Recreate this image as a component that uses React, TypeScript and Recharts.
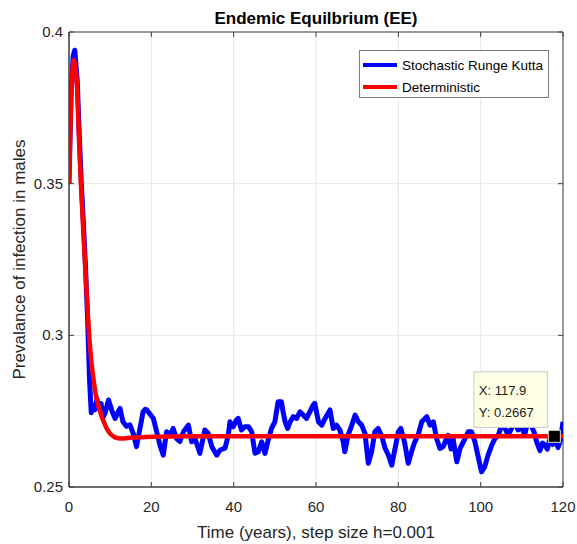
import React from "react"
import {
  LineChart,
  Line,
  XAxis,
  YAxis,
  CartesianGrid,
  Legend,
  ReferenceArea,
  ReferenceDot,
  Label,
} from "recharts"

const FONT = '"Liberation Sans", Arial, Helvetica, sans-serif'
const AXIS = "#404040"
const PLOT_TOP = 32
const PLOT_RIGHT = 563

const seriesNames = ["Stochastic Runge Kutta", "Deterministic"]

// Stochastic Runge Kutta path
const stochTime = [
  0, 0.5, 1.0, 1.4, 2.0, 2.5, 3.0, 3.5, 4.0, 4.5, 5.0, 5.4, 5.8, 6.3, 6.8, 7.3, 7.8, 8.3, 8.8, 9.6,
  10.5, 11.2, 11.8, 12.4, 13.1, 14.0, 14.8, 15.6, 16.4, 17.2, 18.0, 18.5, 18.9, 19.7, 20.5, 21.3, 22.1, 22.9, 23.7, 24.5,
  25.3, 26.1, 26.9, 27.8, 29.0, 29.8, 30.6, 31.8, 33.0, 33.8, 34.7, 35.9, 36.7, 37.9, 38.7, 39.1, 39.9, 40.7, 41.1, 41.9,
  42.7, 43.6, 44.4, 44.8, 45.2, 46.0, 46.8, 47.6, 48.4, 49.2, 50.0, 50.8, 51.6, 52.0, 52.5, 53.1, 53.7, 54.5, 55.3, 56.1,
  56.9, 57.7, 58.5, 59.3, 59.7, 60.6, 61.4, 62.2, 63.4, 64.2, 65.0, 65.8, 66.6, 67.0, 67.8, 68.7, 69.5, 70.3, 71.1, 71.9,
  72.7, 73.5, 74.3, 75.1, 76.0, 76.8, 77.6, 78.4, 79.2, 80.0, 80.6, 81.5, 82.4, 83.2, 84.0, 84.8, 85.7, 86.9, 87.7, 88.5,
  89.3, 90.1, 90.9, 91.7, 92.1, 92.8, 93.3, 94.2, 95.0, 95.8, 97.0, 97.8, 98.6, 99.4, 100.2, 101.0, 101.8, 102.7, 103.5, 104.3,
  105.1, 105.9, 106.7, 107.5, 108.3, 109.1, 109.9, 110.7, 111.5, 112.4, 113.0, 113.6, 114.4, 115.0, 115.6, 116.2, 116.8, 117.5, 118.2, 118.8,
  119.3, 119.7, 120.0,
]
const stochValue = [
  0.35, 0.379, 0.392, 0.394, 0.384, 0.366, 0.35, 0.337, 0.323, 0.306, 0.285, 0.2745, 0.277, 0.2755, 0.279, 0.276, 0.2775, 0.273, 0.2745, 0.2787,
  0.2748, 0.2726, 0.2745, 0.2759, 0.2715, 0.27, 0.2705, 0.2677, 0.2633, 0.269, 0.2748, 0.2756, 0.2754, 0.274, 0.2726, 0.2682, 0.2638, 0.2605, 0.2682, 0.267,
  0.2693, 0.266, 0.265, 0.2682, 0.2704, 0.2649, 0.266, 0.2611, 0.2688, 0.2677, 0.2633, 0.2605, 0.2622, 0.2628, 0.2671, 0.2715, 0.2699, 0.2721, 0.2726, 0.2688,
  0.2699, 0.2699, 0.2682, 0.2644, 0.2611, 0.2616, 0.2649, 0.2611, 0.2655, 0.2693, 0.2715, 0.2781, 0.2781, 0.2748, 0.2715, 0.2693, 0.2715, 0.2732, 0.2726, 0.2748,
  0.2737, 0.2726, 0.2748, 0.277, 0.2776, 0.2715, 0.2704, 0.2726, 0.2754, 0.2693, 0.2704, 0.2688, 0.265, 0.2616, 0.2671, 0.2704, 0.2737, 0.2715, 0.2704, 0.2677,
  0.2578, 0.2616, 0.2682, 0.2693, 0.2666, 0.2627, 0.2605, 0.2572, 0.2627, 0.2682, 0.2693, 0.2649, 0.2578, 0.2616, 0.2649, 0.2671, 0.2715, 0.2732, 0.2704, 0.2715,
  0.266, 0.2627, 0.2633, 0.266, 0.267, 0.2625, 0.266, 0.2583, 0.2627, 0.2649, 0.2682, 0.2682, 0.2649, 0.26, 0.255, 0.2567, 0.2605, 0.2638, 0.266, 0.2671,
  0.2704, 0.2693, 0.2671, 0.2693, 0.2715, 0.2688, 0.2699, 0.2671, 0.272, 0.2699, 0.268, 0.2649, 0.262, 0.2645, 0.2638, 0.2625, 0.266, 0.264, 0.2655, 0.263,
  0.265, 0.2685, 0.2715,
]

// Deterministic solution
const detTime = [0, 0.5, 1.2, 1.5, 2, 2.5, 3, 3.5, 4, 4.5, 5, 5.5, 6, 6.5, 7, 7.5, 8, 8.5, 9, 10, 11, 12, 13, 14, 16, 20, 30, 120]
const detValue = [
  0.35, 0.377, 0.3908, 0.389, 0.381, 0.362, 0.347, 0.334, 0.321, 0.309, 0.298, 0.2905, 0.285, 0.2805, 0.2775, 0.2752, 0.273, 0.2713,
  0.2697, 0.2676, 0.2665, 0.2661, 0.266, 0.2661, 0.2663, 0.2666, 0.2667, 0.2667,
]

const xTicks = [0, 20, 40, 60, 80, 100, 120]
const yTicks = [0.25, 0.3, 0.35, 0.4]
const tipX = 117.9
const tipY = 0.2667

const stochData = stochTime.map((t, i) => ({ t, v: stochValue[i] }))
const detData = detTime.map((t, i) => ({ t, v: detValue[i] }))

const XTick = (props: any) => {
  const { x, y, payload } = props
  return (
    <g>
      <line x1={x} y1={y} x2={x} y2={y - 5} stroke={AXIS} />
      <line x1={x} y1={PLOT_TOP} x2={x} y2={PLOT_TOP + 5} stroke={AXIS} />
      <text x={x} y={y + 25} textAnchor="middle" fontSize={15} fill="#262626" fontFamily={FONT}>
        {payload.value}
      </text>
    </g>
  )
}

const YTick = (props: any) => {
  const { x, y, payload } = props
  return (
    <g>
      <line x1={x} y1={y} x2={x + 5} y2={y} stroke={AXIS} />
      <line x1={PLOT_RIGHT} y1={y} x2={PLOT_RIGHT - 5} y2={y} stroke={AXIS} />
      <text x={x - 6} y={y + 5} textAnchor="end" fontSize={15} fill="#262626" fontFamily={FONT}>
        {payload.value}
      </text>
    </g>
  )
}

const DataTip = (props: any) => {
  const { cx, cy } = props
  return (
    <g>
      <rect x={cx - 80.5} y={cy - 64.5} width={73.5} height={55.5} fill="#ffffe4" stroke="#c9c9c9" />
      <text x={cx - 75.5} y={cy - 41} fontSize={13} fill="#1a1a1a" fontFamily={FONT}>
        {`X: ${tipX}`}
      </text>
      <text x={cx - 75.5} y={cy - 19.5} fontSize={13} fill="#1a1a1a" fontFamily={FONT}>
        {`Y: ${tipY}`}
      </text>
      <rect x={cx - 6} y={cy - 6} width={12} height={12} fill="#000" stroke="#e6dcb8" />
    </g>
  )
}

const renderLegend = (props: any) => {
  const items = [...props.payload].sort(
    (a: any, b: any) => seriesNames.indexOf(a.value) - seriesNames.indexOf(b.value)
  )
  return (
    <div
      style={{
        width: 190,
        height: 48,
        boxSizing: "border-box",
        border: "1px solid #808080",
        background: "#fff",
        paddingTop: 3,
        fontFamily: FONT,
        fontSize: 13.5,
        color: "#000",
      }}
    >
      {items.map((entry: any) => (
        <div key={entry.value} style={{ display: "flex", alignItems: "center", height: 22 }}>
          <span style={{ width: 34, height: 4, background: entry.color, marginLeft: 3, marginRight: 5 }} />
          <span>{entry.value}</span>
        </div>
      ))}
    </div>
  )
}

export default function App() {
  return (
    <div style={{ position: "absolute", left: 0, top: 0, width: 577, height: 544, background: "#fff" }}>
      <div
        style={{
          position: "absolute",
          left: 69,
          top: 10,
          width: 494,
          textAlign: "center",
          fontFamily: FONT,
          fontWeight: "bold",
          fontSize: 17,
          lineHeight: "17px",
          color: "#000",
        }}
      >
        Endemic Equilbrium (EE)
      </div>
      <LineChart width={577} height={544} margin={{ top: 32, right: 14, bottom: 0, left: 0 }}>
        <CartesianGrid stroke="#e6e6e6" />
        <XAxis
          type="number"
          dataKey="t"
          domain={[0, 120]}
          ticks={xTicks}
          interval={0}
          allowDataOverflow
          height={57}
          tickSize={0}
          tickMargin={0}
          tickLine={false}
          axisLine={{ stroke: AXIS }}
          tick={<XTick />}
        >
          <Label
            content={(p: any) => (
              <text
                x={p.viewBox.x + p.viewBox.width / 2}
                y={538}
                textAnchor="middle"
                fontSize={17}
                fill="#262626"
                fontFamily={FONT}
              >
                Time (years), step size h=0.001
              </text>
            )}
          />
        </XAxis>
        <YAxis
          type="number"
          domain={[0.25, 0.4]}
          ticks={yTicks}
          interval={0}
          allowDataOverflow
          width={69}
          tickSize={0}
          tickMargin={0}
          tickLine={false}
          axisLine={{ stroke: AXIS }}
          tick={<YTick />}
        >
          <Label
            content={(p: any) => {
              const cy = p.viewBox.y + p.viewBox.height / 2
              return (
                <text
                  x={25}
                  y={cy}
                  transform={`rotate(-90 25 ${cy})`}
                  textAnchor="middle"
                  fontSize={17}
                  fill="#262626"
                  fontFamily={FONT}
                >
                  Prevalance of infection in males
                </text>
              )
            }}
          />
        </YAxis>
        <ReferenceArea x1={0} x2={120} y1={0.25} y2={0.4} fill="none" stroke={AXIS} />
        <Line
          data={stochData}
          dataKey="v"
          name={seriesNames[0]}
          stroke="#0000ff"
          strokeWidth={5}
          dot={false}
          strokeLinejoin="round"
          isAnimationActive={false}
        />
        <Line
          data={detData}
          dataKey="v"
          name={seriesNames[1]}
          type="monotone"
          stroke="#ff0000"
          strokeWidth={4.5}
          dot={false}
          isAnimationActive={false}
        />
        <ReferenceDot x={tipX} y={tipY} r={6} shape={<DataTip />} />
        <Legend
          layout="vertical"
          align="center"
          verticalAlign="middle"
          wrapperStyle={{ left: 359, top: 50, width: 190, height: 48 }}
          content={renderLegend}
        />
      </LineChart>
    </div>
  )
}
